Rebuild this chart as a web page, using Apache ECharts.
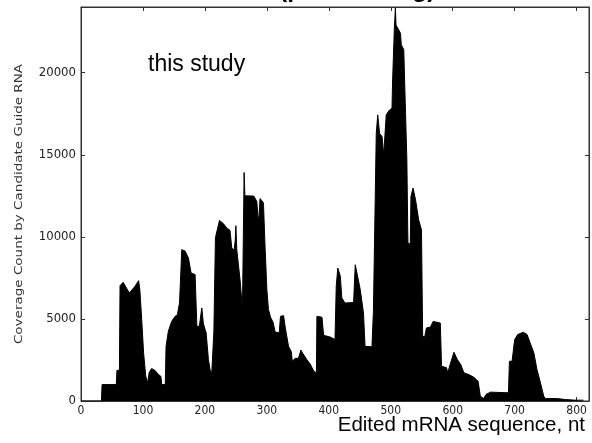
<!DOCTYPE html>
<html><head><meta charset="utf-8">
<script src="https://cdn.jsdelivr.net/npm/echarts@6/dist/echarts.min.js"></script>
<style>html,body{margin:0;padding:0;background:#fff;overflow:hidden}#c{width:592px;height:443px}</style>
</head><body><div id="c"></div>
<script>
const positions = [0,33,34,57,58,62,63,68,78,87,93,95,98,101,104.5,107.7,110,114,119.5,125,129,130.3,136,137.3,141,146.5,152,155.6,159,162.7,168,173.4,177.7,184.2,187,191,195,197.6,202,205.7,208.4,211,214.5,217,223.5,230,235.4,240.5,243.4,247.2,249,250,251.5,257,260.6,262.5,263.3,264.5,279,283.8,285.5,287,289,294.5,295.5,297,300,302.6,306,310,313.4,320,322,327,330,335,339.5,341,345.7,351,355,358,365,370,376,380,380.8,389,391.6,402,410,412,414.5,418.6,421,426,440,442.7,445.4,450.8,456,458.5,469.6,472,475,476.6,479,482,486,488.6,491,492.7,498,502,503,505.7,507.5,508.5,513,515.7,517,521,523.4,526,527.7,531.5,532.6,536,540,545,549.6,551.5,554.8,557.5,564,568.4,570.6,580,582,590,592,596.6,602,607.6,613,618,626,634,641,644.6,650,653.8,661,690,691.5,695.8,700,705,714,720,725,731,736,741.6,747,749.6,768,782,798,811];
const coverage = [0,0,1000,1000,1870,1870,7020,7230,6580,6980,7330,6780,4960,2950,1510,1120,1730,1980,1860,1610,1500,1000,1000,3330,4250,4860,5160,5260,5970,9220,9130,8710,7800,7700,4550,4550,5670,4700,4150,2520,1900,1650,4250,9950,11000,10800,10530,10400,9310,9200,9800,10680,9200,7300,5570,5570,13920,12500,12480,12150,11300,11040,12330,12080,12000,9500,6800,5570,5100,4800,4200,4150,5160,5200,4400,3330,3000,2420,2600,2600,3100,2900,2500,2250,1800,1720,5160,5100,4000,3900,3750,7000,8100,7600,6280,5970,6000,8300,8250,6780,5360,3330,3300,5460,5400,16300,17430,16300,16100,14990,14990,17430,17730,17830,19560,22600,23950,22900,22600,22400,21700,21400,18140,14690,9620,9560,12460,12970,12260,11040,10430,3940,3900,4450,4500,4850,4750,4750,2120,2030,1720,2320,2970,2520,2220,1720,1610,1450,1200,290,150,400,540,500,2420,2420,3740,4050,4190,4050,3540,2930,1920,1110,290,150,150,90,50,50];
const xTickLabels = ['0','100','200','300','400','500','600','700','800'];
const yTickLabels = ['0','5000','10000','15000','20000'];
const X_MAX = 820, X_STEP = 100, Y_MAX = 24000, Y_STEP = 5000;
const titleText = '(post-editing)';
const xName = 'Edited mRNA sequence, nt';
const yName = 'Coverage Count by Candidate Guide RNA';
const noteText = 'this study';

const frame = {color:'#333', width:1};
const tickFont = "'DejaVu Sans Condensed','DejaVu Sans',sans-serif";
function xAx(pos, lab){
  return {type:'value', min:0, max:X_MAX, interval:X_STEP, position:pos,
    axisLine:{show:true, onZero:false, lineStyle:frame},
    axisTick:{show:true, inside:true, length:4, lineStyle:frame},
    splitLine:{show:false},
    axisLabel:{show:lab, showMaxLabel:false, margin:4, fontFamily:tickFont, fontSize:12, color:'#222',
      formatter:(v)=>{const i=xTickLabels.indexOf(String(v));return i>=0?xTickLabels[i]:'';}}};
}
function yAx(pos, lab){
  return {type:'value', min:0, max:Y_MAX, interval:Y_STEP, position:pos,
    axisLine:{show:true, onZero:false, lineStyle:frame},
    axisTick:{show:true, inside:true, length:4, lineStyle:frame},
    splitLine:{show:false},
    axisLabel:{show:lab, showMaxLabel:false, margin:5, fontFamily:tickFont, fontSize:13, color:'#222',
      formatter:(v)=>{const i=yTickLabels.indexOf(String(v));return i>=0?yTickLabels[i]:'';}}};
}
const chart = echarts.init(document.getElementById('c'), null, {renderer:'canvas'});
chart.setOption({
  animation:false,
  backgroundColor:'#fff',
  grid:{left:81, right:3, top:7, bottom:42, containLabel:false, show:true, borderColor:'#333', borderWidth:1, backgroundColor:'transparent'},
  xAxis:[xAx('bottom', true), xAx('top', false)],
  yAxis:[yAx('left', true), yAx('right', false)],
  series:[{
    type:'line', xAxisIndex:0, yAxisIndex:0,
    data: positions.map((p,i)=>[p, coverage[i]]),
    showSymbol:false, symbol:'none',
    lineStyle:{color:'#000', width:1},
    areaStyle:{color:'#000', opacity:1},
    z:1
  }],
  graphic:[
    {type:'text', x:279, y:-9.5, style:{text:titleText, font:"bold 24.5px 'Liberation Sans', Arial, sans-serif", fill:'#000', textAlign:'left', textVerticalAlign:'middle'}},
    {type:'text', x:148, y:65, style:{text:noteText, font:"23px 'Liberation Sans', Arial, sans-serif", fill:'#000', textAlign:'left', textVerticalAlign:'middle'}},
    {type:'text', x:585, y:425, style:{text:xName, font:"20.5px 'Liberation Sans', Arial, sans-serif", fill:'#000', textAlign:'right', textVerticalAlign:'middle'}},
    {type:'text', x:19.5, y:204, rotation:Math.PI/2, scaleY:0.78, style:{text:yName, font:"13.5px 'DejaVu Sans', sans-serif", fill:'#333', textAlign:'center', textVerticalAlign:'middle'}}
  ]
});
</script></body></html>
